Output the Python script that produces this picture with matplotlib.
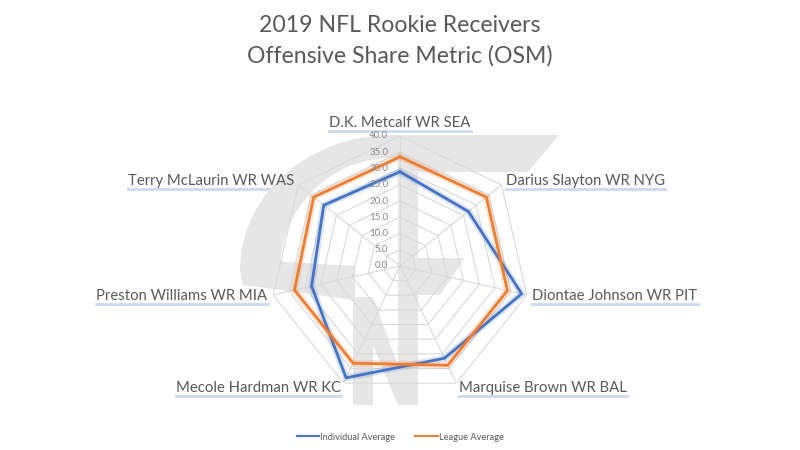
import numpy as np
import matplotlib.pyplot as plt
import matplotlib.patheffects as pe
from matplotlib.patches import Polygon
from matplotlib.lines import Line2D

players = ['D.K. Metcalf WR SEA', 'Darius Slayton WR NYG', 'Diontae Johnson WR PIT',
           'Marquise Brown WR BAL', 'Mecole Hardman WR KC', 'Preston Williams WR MIA',
           'Terry McLaurin WR WAS']
individual_avg = [29.0, 26.9, 38.4, 31.5, 38.2, 27.9, 30.0]
league_avg = [33.6, 34.0, 33.9, 33.9, 33.2, 33.3, 34.0]
r_ticks = [0, 5, 10, 15, 20, 25, 30, 35, 40]
series_names = ['Individual Average', 'League Average']
title_lines = ['2019 NFL Rookie Receivers', 'Offensive Share Metric (OSM)']

plt.rcParams['font.family'] = ['Lato', 'DejaVu Sans']
txt_col = '#595959'
grid_col = '#d9d9d9'
colors = ['#4472C4', '#ED7D31']

fig = plt.figure(figsize=(8, 4.5), dpi=100)

# watermark logo in the background (pixel coords)
bg = fig.add_axes([0, 0, 1, 1], zorder=0)
bg.set_xlim(0, 800)
bg.set_ylim(450, 0)
bg.axis('off')
wm = '#e6e6e6'
cx, cy = 392, 270
t_out = np.radians(np.linspace(0, 90, 50))
t_in = np.radians(np.linspace(85, 0, 50))
outer = np.column_stack([cx - 152 * np.sin(t_out), cy - 135 * np.cos(t_out)])
inner = np.column_stack([cx - 112 * np.sin(t_in), cy - 112 * np.cos(t_in)])
g_bottom = np.array([(243, 285), (355, 300), (355, 266), (284, 262)])
bg.add_patch(Polygon(np.vstack([outer, g_bottom, inner]), color=wm, lw=0))
bg.add_patch(Polygon([(390, 135), (559, 135), (528, 172), (398, 172), (398, 158), (390, 158)], color=wm, lw=0))
bg.add_patch(Polygon([(398, 135), (418, 135), (418, 405), (398, 405)], color=wm, lw=0))
bg.add_patch(Polygon([(418, 258), (465, 258), (440, 295), (418, 295)], color=wm, lw=0))
bg.add_patch(Polygon([(353, 297), (373, 297), (373, 405), (353, 405)], color=wm, lw=0))
bg.add_patch(Polygon([(353, 297), (373, 297), (405, 385), (398, 405)], color=wm, lw=0))

# radar axes, centre at (400, 266) px, 40 units = 130 px
ax = fig.add_axes([270 / 800, 54 / 450, 260 / 800, 260 / 450], projection='polar', zorder=1)
ax.set_theta_zero_location('N')
ax.set_theta_direction(-1)
ax.set_ylim(0, 40)
ax.set_axis_off()
ax.patch.set_alpha(0)

n = len(players)
angles = np.linspace(0, 2 * np.pi, n, endpoint=False)
closed = np.append(angles, angles[0])

for r in r_ticks[1:]:
    ax.plot(closed, [r] * (n + 1), color=grid_col, lw=0.8, zorder=1)
for a in angles:
    ax.plot([a, a], [0, r_ticks[-1]], color=grid_col, lw=0.8, zorder=1)

for vals, c, name in zip([individual_avg, league_avg], colors, series_names):
    v = np.append(vals, vals[0])
    ax.plot(closed, v, color=c, lw=2, label=name, zorder=3,
            path_effects=[pe.Stroke(linewidth=5, foreground=c, alpha=0.18), pe.Normal()])

for r in r_ticks:
    ax.annotate(f'{r:.1f}', xy=(0, r), xytext=(-8.5, 0), textcoords='offset points',
                ha='right', va='center', fontsize=7, color='#8a8a8a')

labels = []
for a, name in zip(angles, players):
    s = np.sin(a)
    ha = 'left' if s > 0.1 else ('right' if s < -0.1 else 'center')
    va = 'bottom' if np.cos(a) > 0.9 else 'center'
    labels.append(ax.text(a, 41.8, name, ha=ha, va=va, fontsize=10.7, color=txt_col))

fig.text(0.5, 1 - 32 / 450, title_lines[0], ha='center', va='baseline', fontsize=16.6, color=txt_col)
fig.text(0.5, 1 - 63 / 450, title_lines[1], ha='center', va='baseline', fontsize=16.6, color=txt_col)

handles = [Line2D([], [], color=c, lw=1.5) for c in colors]
fig.legend(handles, series_names, loc='center', bbox_to_anchor=(0.5, 13 / 450), ncol=2,
           frameon=False, fontsize=6.7, labelcolor=txt_col, handlelength=2.4,
           handletextpad=0.1, columnspacing=2.2)

# soft blue underline below each category label
fig.canvas.draw()
rend = fig.canvas.get_renderer()
for lab in labels:
    bb = lab.get_window_extent(rend)
    fig.add_artist(Line2D([bb.x0, bb.x1], [bb.y0 - 1, bb.y0 - 1], transform=None,
                          color='#cdd9ec', lw=2, zorder=0))

fig.savefig('out.png', dpi=100)
